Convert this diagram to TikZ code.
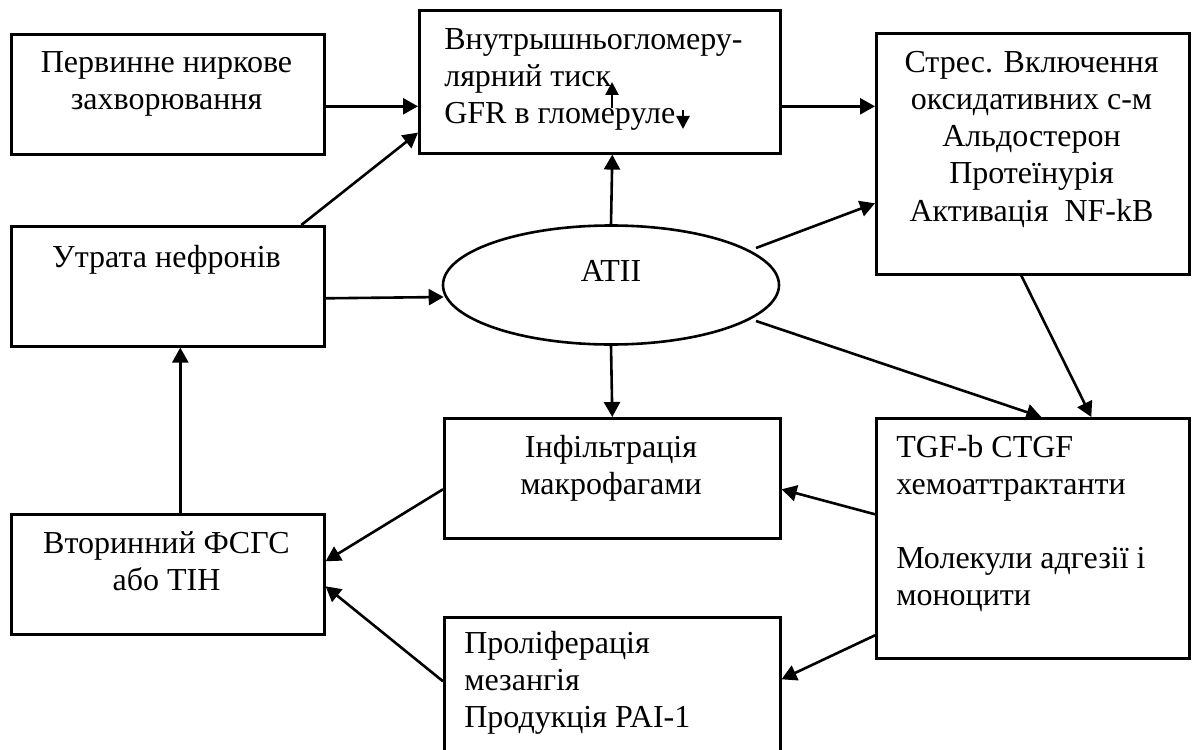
\documentclass[tikz,border=0pt]{standalone}
\usepackage{fontspec}
\setmainfont{Liberation Serif}
\usetikzlibrary{shapes.geometric, arrows.meta}

\begin{document}
\begin{tikzpicture}[x=0.5pt, y=-0.5pt, line width=1.3pt,
 font=\fontsize{16pt}{18.5pt}\selectfont,
 box/.style={draw, rectangle, anchor=north west, inner sep=0},
 mid text/.style={anchor=base, inner sep=0, text width=150pt, align=flush center},
 left text/.style={anchor=base west, inner sep=0, text width=200pt, align=flush left},
 link/.style={-{Triangle[length=7.5pt,width=8pt]}},
 small link/.style={-{Triangle[length=6.5pt,width=6.5pt]}}]

  \useasboundingbox (0,0) rectangle (1193,749);

  % boxes
  \node[box, minimum width=156.5pt, minimum height=60pt] (prim) at (10,33) {};
  \node[box, minimum width=180.5pt, minimum height=71.5pt] (vnut) at (418,9) {};
  \node[box, minimum width=156.5pt, minimum height=120.5pt] (stres) at (875,32) {};
  \node[box, minimum width=156.5pt, minimum height=60pt] (utr) at (10,225) {};
  \node[draw, ellipse, minimum width=168pt, minimum height=59.5pt] (atii) at (611,285) {};
  \node[box, minimum width=168pt, minimum height=60pt] (infil) at (443,417) {};
  \node[box, minimum width=156.5pt, minimum height=120pt] (tgf) at (875,417) {};
  \node[box, minimum width=156.5pt, minimum height=60pt] (vtor) at (10,513) {};
  \node[box, minimum width=168pt, minimum height=75pt] (prol) at (443,616) {};

  % texts
  \node[mid text] (primtxt) at (166.5,73) {Первинне ниркове\\захворювання};
  \node[left text] (vnuttxt) at (443,50) {Внутрышньогломеру-\\лярний тиск\\GFR в гломеруле};
  \node[mid text] (strestxt) at (1031.5,73) {Стрес. Включення\\оксидативних с-м\\Альдостерон\\Протеїнурія\\Активація\ \ NF-kB};
  \node[mid text] (utrtxt) at (166.5,267) {Утрата нефронів};
  \node[mid text] (atiitxt) at (611,281) {ATII};
  \node[mid text] (infiltxt) at (611,457) {Інфільтрація\\макрофагами};
  \node[left text] (tgftxt) at (895,457) {TGF-b CTGF\\хемоаттрактанти\\[18.5pt]Молекули адгезії і\\моноцити};
  \node[mid text] (vtortxt) at (166.5,553) {Вторинний ФСГС\\або ТІН};
  \node[left text] (proltxt) at (463,653) {Проліферація\\мезангія\\Продукція PAI-1};

  % connectors
  \foreach \s/\sx/\sy/\t/\tx/\ty in {prim.east/0/12/vnut.west/0/24.5,
      utr.north/133.5/0/vnut.south west/0/-22,
      utr.east/0/12/atii.west/2/12,
      atii.north/0/0/vnut.south/12.5/0,
      vnut.east/0/24.5/stres.west/0/-47.5,
      atii.center/145/-37/stres.west/0/49.5,
      atii.center/145/36/tgf.north/8.5/0,
      stres.south/-11.5/0/tgf.north/58.5/0,
      atii.south/0/0/infil.north/0/0,
      tgf.west/0/-24/infil.east/0/11,
      tgf.west/0/97/prol.east/0/-13,
      infil.west/0/11/vtor.east/0/-13,
      prol.west/0/-11/vtor.east/0/12,
      vtor.north/12.5/0/utr.south/12.5/0} {
   \draw[link] ([shift={(\sx,\sy)}]\s) -- ([shift={(\tx,\ty)}]\t);}

  % up / down marks
  \coordinate (up1) at (612,108);
  \coordinate (up2) at (612,82);
  \coordinate (dn1) at (683,110);
  \coordinate (dn2) at (683,129);
  \draw[small link] (up1) -- (up2);
  \draw[small link] (dn1) -- (dn2);
\end{tikzpicture}
\end{document}
